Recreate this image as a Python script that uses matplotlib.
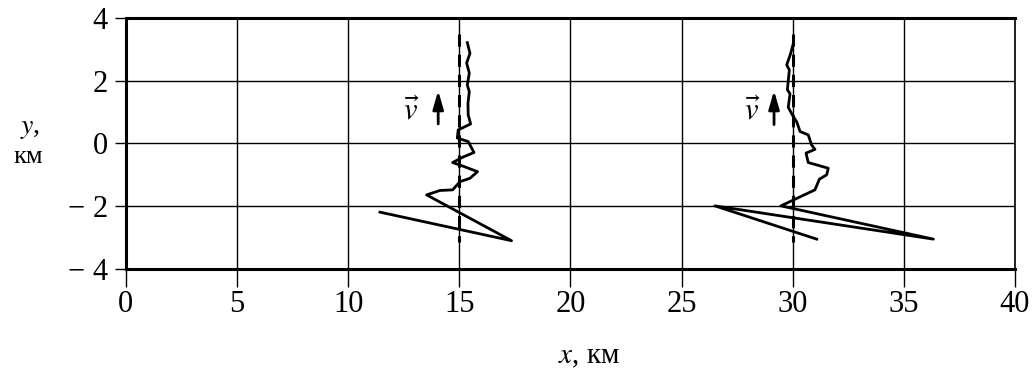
import matplotlib.pyplot as plt
import numpy as np

plt.rcParams['font.family'] = ['Liberation Serif', 'DejaVu Serif']
plt.rcParams['mathtext.fontset'] = 'stix'

# trajectory 1 (near x = 15 km)
x1 = [15.36, 15.48, 15.33, 15.45, 15.36, 15.45, 15.39, 15.40, 15.51, 14.95, 14.91,
      15.40, 15.66, 15.15, 14.70, 15.15, 15.82, 15.48, 15.03, 14.70, 14.13, 13.53,
      17.35, 11.43]
y1 = [3.21, 2.87, 2.56, 2.24, 1.86, 1.65, 1.28, 0.91, 0.62, 0.43, 0.17,
      0.06, -0.29, -0.44, -0.61, -0.72, -0.90, -1.11, -1.22, -1.48, -1.50, -1.64,
      -3.10, -2.19]

# trajectory 2 (near x = 30 km)
x2 = [30.03, 29.91, 29.73, 29.85, 29.76, 29.88, 29.80, 30.03, 30.18, 30.33, 30.70,
      30.85, 31.00, 30.60, 30.70, 31.60, 31.53, 31.20, 31.00, 29.47, 36.33, 26.50,
      31.08]
y2 = [3.19, 2.87, 2.50, 2.34, 1.71, 1.58, 1.15, 0.85, 0.69, 0.38, 0.27,
      -0.05, -0.19, -0.31, -0.61, -0.79, -1.00, -1.14, -1.48, -1.99, -3.05, -1.99,
      -3.05]

# reference (dashed) lines
ref_x = [15, 30]
ref_y = [3.5, -3.15]

# velocity arrows: (x, y_start, y_end), label position
arrows = [(14.05, 0.62, 1.68), (29.16, 0.60, 1.68)]
v_labels = [(12.85, 1.0), (28.2, 1.0)]

xticks = [0, 5, 10, 15, 20, 25, 30, 35, 40]
yticks = [-4, -2, 0, 2, 4]
ytick_labels = ['− 4', '− 2', '0', '2', '4']

fig = plt.figure(figsize=(10.32, 3.72), dpi=100)
ax = fig.add_axes([0.122, 0.277, 0.8615, 0.675])

ax.grid(True, color='black', linewidth=1.0)
ax.set_axisbelow(True)

for xr in ref_x:
    ax.plot([xr, xr], ref_y, color='black', linewidth=2.2, linestyle=(0, (4, 2.6)))

ax.plot(x1, y1, color='black', linewidth=2)
ax.plot(x2, y2, color='black', linewidth=2)

for (xa, ya0, ya1) in arrows:
    ax.annotate('', xy=(xa, ya1), xytext=(xa, ya0),
                arrowprops=dict(arrowstyle='-|>,head_length=1.1,head_width=0.32',
                                color='black', lw=2.0, shrinkA=0, shrinkB=0))
for (xl, yl) in v_labels:
    ax.text(xl, yl, r'$\vec{v}$', fontsize=22, ha='center', va='center')

ax.set_xlim(0, 40)
ax.set_ylim(-4, 4)
ax.set_xticks(xticks)
ax.set_yticks(yticks)
ax.set_yticklabels(ytick_labels)
ax.tick_params(axis='both', labelsize=22, color='black', width=1.0)
ax.tick_params(axis='x', length=13, pad=2)
ax.tick_params(axis='y', length=8, pad=5)

for side in ['left', 'bottom', 'top']:
    ax.spines[side].set_linewidth(2.2)
ax.spines['right'].set_linewidth(1.2)

fig.text(0.571, 0.04, r'$x$, км', fontsize=21, ha='center', va='center')
fig.text(0.029, 0.655, r'$y$,', fontsize=20, ha='center', va='center')
fig.text(0.027, 0.578, 'км', fontsize=19, ha='center', va='center')

fig.savefig('out.png', dpi=100)
